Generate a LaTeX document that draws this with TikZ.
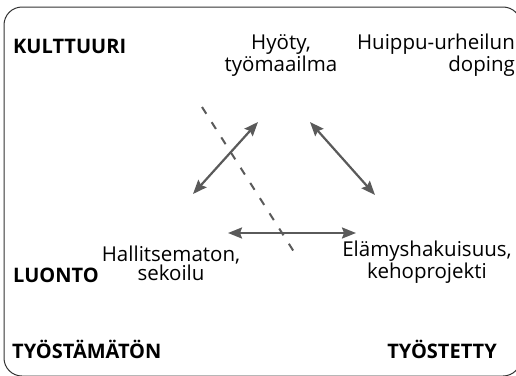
\documentclass[tikz,border=0pt]{standalone}
\usepackage{fontspec}
\setmainfont{Open Sans}
\usetikzlibrary{arrows.meta}
\definecolor{arrgray}{HTML}{5A5A5A}
\tikzset{
  lbl/.style={inner sep=0pt, font=\fontsize{20.5}{19}\selectfont},
  blbl/.style={inner sep=0pt, font=\fontsize{20}{19}\selectfont\bfseries},
  dbl/.style={draw=arrgray, line width=2.2pt, {Stealth[length=14pt,width=11pt,inset=2pt]}-{Stealth[length=14pt,width=11pt,inset=2pt]}},
  dash line/.style={draw=arrgray, line width=2pt, dash pattern=on 8pt off 10pt}
}
\begin{document}
\begin{tikzpicture}[x=1pt,y=-1pt]
\useasboundingbox (0,0) rectangle (516,375);
\draw[line width=1pt, draw=black!80, rounded corners=18pt] (4,7) rectangle (521,376);
\node[blbl, anchor=base west] (kult) at (13,53) {KULTTUURI};
\node[blbl, anchor=base west] (luonto) at (13,282) {LUONTO};
\node[blbl, anchor=base west] (tyostam) at (12,358) {TYÖSTÄMÄTÖN};
\node[blbl, anchor=base east] (tyostet) at (497,358) {TYÖSTETTY};
\node[lbl, anchor=base, align=center] (hyoty) at (281,71) {Hyöty,\\työmaailma};
\node[lbl, anchor=base east, align=right] (huippu) at (515,71) {Huippu-urheilun\\doping};
\node[lbl, anchor=base, align=center] (hall) at (171,280) {Hallitsematon,\\sekoilu};
\node[lbl, anchor=base, align=center] (elam) at (427,278) {Elämyshakuisuus,\\kehoprojekti};
\coordinate (a1s) at (193,194);
\coordinate (a1e) at (258,122);
\coordinate (a2s) at (310,122);
\coordinate (a2e) at (375,195);
\coordinate (a3s) at (228,233);
\coordinate (a3e) at (356,233);
\coordinate (ds) at (202,107);
\coordinate (de) at (296,255);
\draw[dbl] (a1s) -- (a1e);
\draw[dbl] (a2s) -- (a2e);
\draw[dbl] (a3s) -- (a3e);
\draw[dash line] (ds) -- (de);
\end{tikzpicture}
\end{document}
